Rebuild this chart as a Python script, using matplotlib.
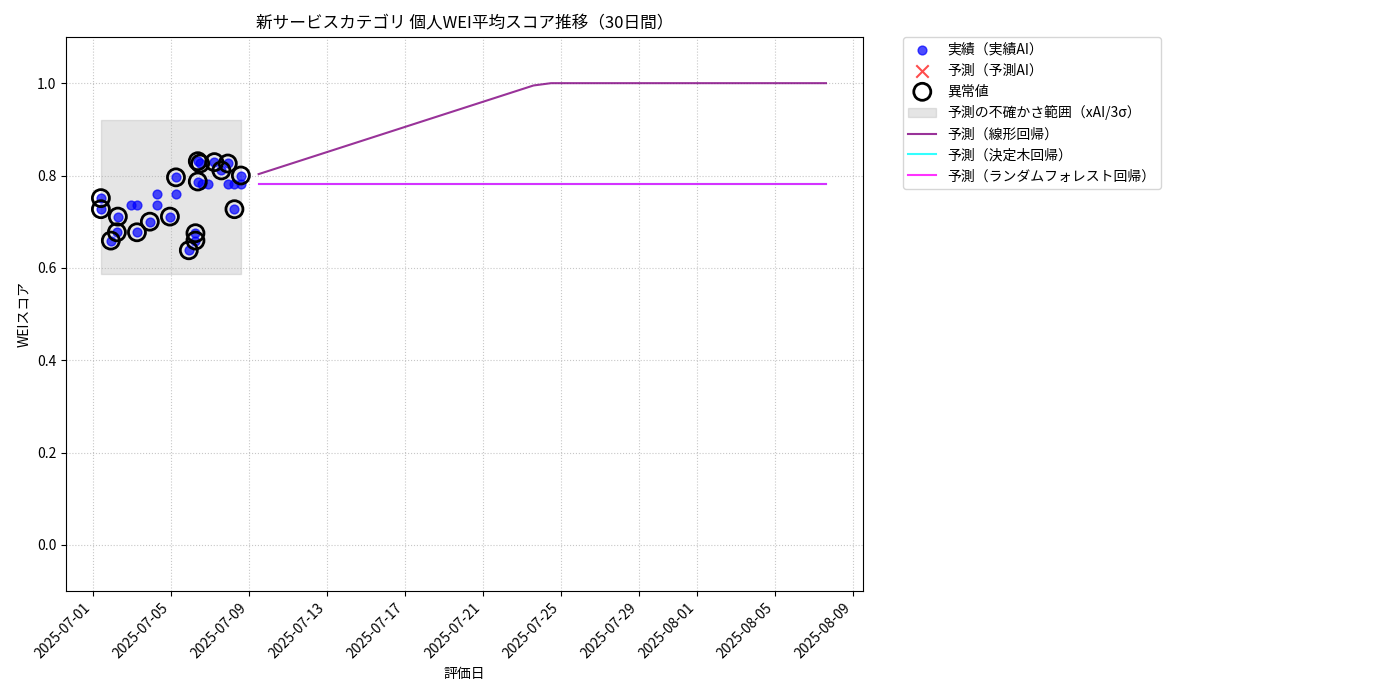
import matplotlib
matplotlib.use("Agg")
import matplotlib.pyplot as plt
import matplotlib.dates as mdates
import numpy as np
from datetime import datetime, timedelta

plt.rcParams['font.family'] = ['Noto Sans CJK JP', 'DejaVu Sans']

base = datetime(2025, 7, 1)
# actual points: (day offset, value)
act_days = [0.41, 0.41, 0.92, 1.23, 1.28, 1.95, 2.26, 2.26, 2.92, 3.28, 3.28, 3.95, 4.26, 4.26,
            4.92, 5.26, 5.26, 5.38, 5.38, 5.50, 5.59, 5.90, 6.23, 6.59, 6.92, 6.92, 7.26, 7.26, 7.59]
act_vals = [0.751, 0.727, 0.659, 0.677, 0.711, 0.737, 0.737, 0.677, 0.700, 0.761, 0.737, 0.711, 0.796, 0.761,
            0.638, 0.675, 0.659, 0.831, 0.787, 0.826, 0.781, 0.781, 0.829, 0.811, 0.826, 0.781, 0.781, 0.727, 0.781]
anom_days = [0.41, 0.41, 0.92, 1.23, 1.28, 2.26, 2.92, 3.95, 4.26, 4.92, 5.26, 5.26, 5.38, 5.38, 5.50,
             6.23, 6.59, 6.92, 7.26, 7.59]
anom_vals = [0.751, 0.727, 0.659, 0.677, 0.711, 0.677, 0.700, 0.711, 0.796, 0.638, 0.675, 0.659, 0.831, 0.787, 0.826,
             0.829, 0.811, 0.826, 0.727, 0.800]
act_days += [7.59]; act_vals += [0.800]
band_days = [0.41, 7.59]
band_lo, band_hi = 0.587, 0.92
lin_days = [8.5, 22.6, 23.5, 37.6]
lin_vals = [0.803, 0.995, 1.0, 1.0]
tree_days = [8.5, 37.6]; tree_vals = [0.782, 0.782]
rf_days = [8.5, 37.6]; rf_vals = [0.782, 0.782]

d = lambda xs: [base + timedelta(days=x) for x in xs]

fig = plt.figure(figsize=(14, 7), dpi=100)
ax = fig.add_axes([66/1400, 1-591/700, (863-66)/1400, (591-37)/700])
ax.fill_between(d(band_days), band_lo, band_hi, color='gray', alpha=0.2, label='予測の不確かさ範囲（xAI/3σ）')
ax.scatter(d(act_days), act_vals, color='blue', alpha=0.7, s=40, label='実績（実績AI）', zorder=3)
ax.scatter([], [], color='red', marker='x', s=80, alpha=0.7, label='予測（予測AI）')
ax.scatter(d(anom_days), anom_vals, facecolors='none', edgecolors='black', s=150, linewidths=2, label='異常値', zorder=4)
ax.plot(d(lin_days), lin_vals, color='purple', alpha=0.8, label='予測（線形回帰）')
ax.plot(d(tree_days), tree_vals, color='cyan', alpha=0.8, label='予測（決定木回帰）')
ax.plot(d(rf_days), rf_vals, color='magenta', alpha=0.8, label='予測（ランダムフォレスト回帰）')

ax.set_xlim(base - timedelta(days=1.38), base + timedelta(days=39.5))
ax.set_ylim(-0.1, 1.1)
ticks = [datetime(2025,7,1), datetime(2025,7,5), datetime(2025,7,9), datetime(2025,7,13), datetime(2025,7,17),
         datetime(2025,7,21), datetime(2025,7,25), datetime(2025,7,29), datetime(2025,8,1), datetime(2025,8,5), datetime(2025,8,9)]
ax.set_xticks(ticks)
ax.xaxis.set_major_formatter(mdates.DateFormatter('%Y-%m-%d'))
plt.setp(ax.get_xticklabels(), rotation=45, ha='right')
ax.grid(True, linestyle=':', alpha=0.7)
ax.set_title('新サービスカテゴリ 個人WEI平均スコア推移（30日間）')
ax.set_xlabel('評価日')
ax.set_ylabel('WEIスコア')
h, l = ax.get_legend_handles_labels()
order = ['実績（実績AI）', '予測（予測AI）', '異常値', '予測の不確かさ範囲（xAI/3σ）', '予測（線形回帰）', '予測（決定木回帰）', '予測（ランダムフォレスト回帰）']
hd = dict(zip(l, h))
ax.legend([hd[k] for k in order], order, loc='upper left', bbox_to_anchor=(1.05, 1.0), borderaxespad=0.)
fig.savefig('out.png')
